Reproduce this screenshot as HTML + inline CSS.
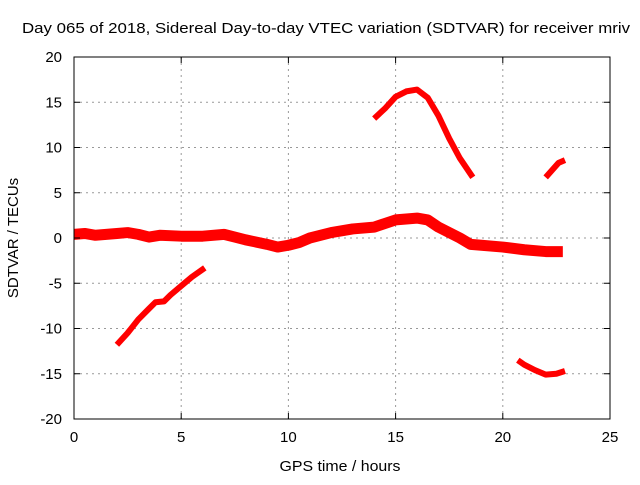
<!DOCTYPE html>
<html><head><meta charset="utf-8"><style>
body{margin:0;background:#fff}
svg text{font-family:"Liberation Sans",sans-serif;font-size:15px;fill:#000}
</style></head><body>
<svg id="chart" width="640" height="480" xmlns="http://www.w3.org/2000/svg">
<text x="22" y="33" textLength="608" lengthAdjust="spacingAndGlyphs">Day 065 of 2018, Sidereal Day-to-day VTEC variation (SDTVAR) for receiver mriv</text>
<text x="340" y="471" text-anchor="middle" textLength="121" lengthAdjust="spacingAndGlyphs">GPS time / hours</text>
<text transform="translate(18,238) rotate(-90)" text-anchor="middle">SDTVAR / TECUs</text>
<g id="grid"></g><g id="series"></g>
<rect x="74" y="57" width="536" height="362" fill="none" stroke="#000" stroke-width="1"/>
<g id="ticks"></g>
</svg>
<script>
const xTicks=[0,5,10,15,20,25];
const yTicks=[-20,-15,-10,-5,0,5,10,15,20];
const mainX=[0,0.5,1,2,2.5,3,3.5,4,5,6,7,7.5,8,9,9.5,10,10.5,11,12,13,14,15,16,16.5,17,18,18.5,19,20,21,22,22.8];
const mainY=[0.4,0.5,0.3,0.5,0.6,0.4,0.1,0.3,0.2,0.2,0.4,0.1,-0.2,-0.7,-1.0,-0.8,-0.5,0,0.6,1.0,1.2,2.0,2.2,2.0,1.2,0,-0.7,-0.8,-1.0,-1.3,-1.5,-1.5];
const s2X=[2.0,2.5,3,3.5,3.8,4.2,4.5,5,5.5,6.1];
const s2Y=[-11.8,-10.5,-9,-7.8,-7.1,-7.0,-6.3,-5.3,-4.3,-3.3];
const s3X=[14,14.5,15,15.5,16,16.5,17,17.5,18,18.6];
const s3Y=[13.2,14.3,15.6,16.2,16.4,15.5,13.5,11,8.8,6.7];
const s4X=[22,22.3,22.6,22.9];
const s4Y=[6.7,7.5,8.3,8.6];
const s5X=[20.7,21,21.5,22,22.5,22.9];
const s5Y=[-13.5,-14,-14.6,-15.1,-15,-14.7];
const NS="http://www.w3.org/2000/svg";
const X0=74,X1=610,Y0=419,Y1=57;
const xs=v=>X0+(v-0)/25*(X1-X0);
const ys=v=>Y0-(v+20)/40*(Y0-Y1);
const grid=document.getElementById('grid'),ticks=document.getElementById('ticks'),ser=document.getElementById('series');
function mk(t,a,p){const e=document.createElementNS(NS,t);for(const k in a)e.setAttribute(k,a[k]);p.appendChild(e);return e;}
xTicks.forEach(v=>{const x=xs(v);
 if(v>0&&v<25){const g=mk('line',{x1:x,x2:x,y1:Y1,y2:Y0,stroke:'#999','stroke-dasharray':'2,4'},grid);
 
 }
 const t=mk('text',{x:x,y:Y0+23,'text-anchor':'middle'},ticks);t.textContent=v;
 
 
 mk('line',{x1:x,x2:x,y1:Y0,y2:Y0-6,stroke:'#000'},ticks);mk('line',{x1:x,x2:x,y1:Y1,y2:Y1+6,stroke:'#000'},ticks);});
yTicks.forEach(v=>{const y=ys(v);
 if(v>-20&&v<20){const g=mk('line',{x1:X0,x2:X1,y1:y,y2:y,stroke:'#999','stroke-dasharray':'2,4'},grid);
 
 }
 const t=mk('text',{x:X0-12,y:y+5,'text-anchor':'end'},ticks);t.textContent=v;
 
 
 mk('line',{x1:X0,x2:X0+6,y1:y,y2:y,stroke:'#000'},ticks);mk('line',{x1:X1,x2:X1-6,y1:y,y2:y,stroke:'#000'},ticks);});
function line(X,Y,w,name){const pts=X.map((v,i)=>xs(v)+','+ys(Y[i])).join(' ');
 const p=mk('polyline',{points:pts,fill:'none',stroke:'#f00','stroke-width':w,'stroke-linejoin':'round','stroke-linecap':'butt'},ser);
 
 }
line(mainX,mainY,11,'series-main-band');
line(s2X,s2Y,6,'series-morning-negative');
line(s3X,s3Y,6,'series-afternoon-peak');
line(s4X,s4Y,6,'series-late-positive');
line(s5X,s5Y,6,'series-late-negative');
</script>
</body></html>
